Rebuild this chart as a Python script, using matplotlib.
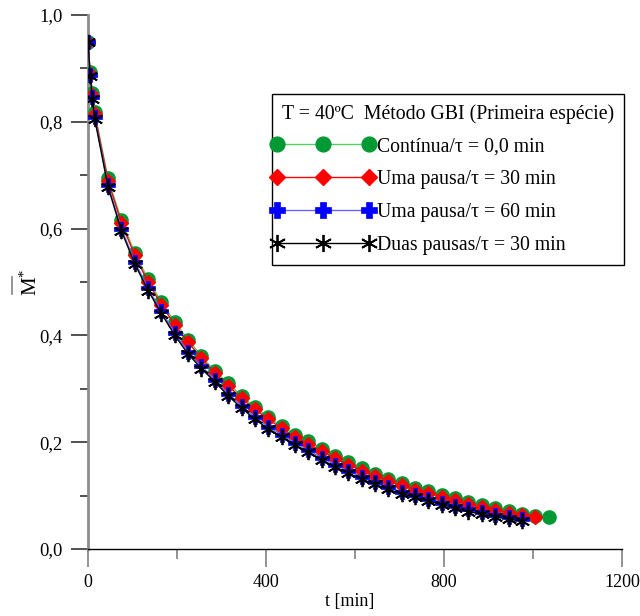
import matplotlib
matplotlib.use('Agg')
import matplotlib.pyplot as plt
from matplotlib.ticker import MultipleLocator, FuncFormatter
from matplotlib.legend_handler import HandlerLine2D
from matplotlib.lines import Line2D

plt.rcParams['font.family'] = ['Liberation Serif', 'DejaVu Serif']
plt.rcParams['mathtext.fontset'] = 'custom'
plt.rcParams['mathtext.rm'] = 'Liberation Serif'
plt.rcParams['mathtext.it'] = 'Liberation Serif:italic'

# ---------------- data ----------------
t_early = [0, 5, 10, 15]
t_green = t_early + list(range(45, 1036, 30))
t_red = t_early + list(range(45, 1006, 30))
t_blue = t_early + list(range(45, 976, 30))
t_black = t_early + list(range(45, 976, 30))

m_green = [0.950, 0.893, 0.853, 0.818,
           0.694, 0.616, 0.555, 0.505, 0.462, 0.425, 0.392, 0.361, 0.333, 0.311,
           0.286, 0.266, 0.247, 0.230, 0.214, 0.202, 0.188, 0.175, 0.162, 0.151,
           0.141, 0.131, 0.123, 0.115, 0.108, 0.102, 0.095, 0.088, 0.082, 0.076,
           0.071, 0.066, 0.062, 0.059]
m_red = [0.950, 0.890, 0.850, 0.814,
         0.689, 0.611, 0.550, 0.500, 0.457, 0.420, 0.387, 0.357, 0.329, 0.306,
         0.282, 0.262, 0.243, 0.226, 0.210, 0.197, 0.183, 0.170, 0.158, 0.147,
         0.137, 0.127, 0.119, 0.111, 0.104, 0.098, 0.091, 0.084, 0.078, 0.073,
         0.068, 0.063, 0.060]
m_blue = [0.950, 0.888, 0.846, 0.809,
          0.682, 0.600, 0.538, 0.488, 0.445, 0.404, 0.369, 0.342, 0.317, 0.291,
          0.268, 0.247, 0.229, 0.214, 0.199, 0.185, 0.171, 0.158, 0.146, 0.135,
          0.125, 0.116, 0.107, 0.101, 0.094, 0.087, 0.081, 0.074, 0.069, 0.064,
          0.060, 0.056]
m_black = [0.950, 0.886, 0.843, 0.806,
           0.678, 0.596, 0.534, 0.484, 0.441, 0.400, 0.365, 0.338, 0.313, 0.287,
           0.264, 0.243, 0.225, 0.210, 0.195, 0.181, 0.167, 0.154, 0.142, 0.131,
           0.121, 0.112, 0.103, 0.097, 0.090, 0.083, 0.077, 0.070, 0.065, 0.060,
           0.056, 0.052]

labels = ['Contínua/τ = 0,0 min', 'Uma pausa/τ = 30 min',
          'Uma pausa/τ = 60 min', 'Duas pausas/τ = 30 min']
legend_title = 'T = 40ºC  Método GBI (Primeira espécie)'
x_ticks = [0, 400, 800, 1200]
y_ticks = [0.0, 0.2, 0.4, 0.6, 0.8, 1.0]

# ---------------- figure ----------------
fig = plt.figure(figsize=(6.4, 6.16), dpi=100)
ax = fig.add_axes([88 / 640, 1 - 549 / 616, 534 / 640, 534 / 616])

ax.plot(t_green, m_green, '-', color='#55cc66', lw=1.0, marker='o', ms=9.5,
        mfc='#009933', mec='#009933', label=labels[0], zorder=3)
ax.plot(t_red, m_red, '-', color='#ff0000', lw=1.0, marker='D', ms=7.5,
        mfc='#ff0000', mec='#ff0000', label=labels[1], zorder=4)
ax.plot(t_blue, m_blue, '-', color='#6666ff', lw=1.0, marker='P', ms=10,
        mfc='#0000ff', mec='#0000ff', mew=0.5, label=labels[2], zorder=5)
ax.plot(t_black, m_black, '-', color='black', lw=1.0, marker=(6, 2, 0), ms=11,
        mfc='black', mec='black', mew=1.3, label=labels[3], zorder=6)

ax.set_xlim(0, 1200)
ax.set_ylim(0, 1.0)
ax.set_xticks(x_ticks)
ax.set_yticks(y_ticks)
ax.xaxis.set_minor_locator(MultipleLocator(200))
ax.yaxis.set_minor_locator(MultipleLocator(0.1))
ax.yaxis.set_major_formatter(FuncFormatter(lambda v, p: f'{v:.1f}'.replace('.', ',')))
ax.xaxis.set_major_formatter(FuncFormatter(lambda v, p: f'{v:.0f}'))

for s in ['top', 'right']:
    ax.spines[s].set_visible(False)
ax.spines['left'].set_color('#8c8c8c')
ax.spines['left'].set_linewidth(2)
ax.spines['bottom'].set_color('black')
ax.spines['bottom'].set_linewidth(1)

ax.tick_params(axis='x', which='major', direction='out', length=13, width=1.2,
               color='#808080', labelsize=13, pad=5)
ax.tick_params(axis='x', which='minor', direction='out', length=7.5, width=1.2,
               color='#808080')
ax.tick_params(axis='y', which='major', direction='out', length=12.5, width=1.2,
               color='#333333', labelsize=13.3, pad=6)
ax.tick_params(axis='y', which='minor', direction='out', length=6, width=1.2,
               color='#333333')

ax.set_xlabel('t [min]', fontsize=13)
ax.xaxis.set_label_coords(0.49, -0.083)
ax.set_ylabel(r'$\mathrm{M}^{*}$', fontsize=15)
ax.yaxis.set_label_coords(-0.086, 0.5)
# overline bar of the (rotated) M-bar label
fig.add_artist(Line2D([12 / 640, 12 / 640], [1 - 277 / 616, 1 - 294 / 616],
                      transform=fig.transFigure, color='#8c8c8c', lw=1.3))

hmap = {Line2D: HandlerLine2D(marker_pad=0.0, xpad=-0.25)}
leg = ax.legend(loc='upper left', bbox_to_anchor=(272 / 640, 1 - 94 / 616),
                bbox_transform=fig.transFigure, borderaxespad=0,
                numpoints=3, handlelength=4.4, handletextpad=0.42,
                fontsize=14.2, title=legend_title, title_fontsize=14.2,
                alignment='left', frameon=True, fancybox=False,
                edgecolor='black', framealpha=1, labelspacing=0.70,
                borderpad=0.5, handler_map=hmap, markerscale=1.12)
leg.get_frame().set_linewidth(1.0)

fig.savefig('out.png', dpi=100)
